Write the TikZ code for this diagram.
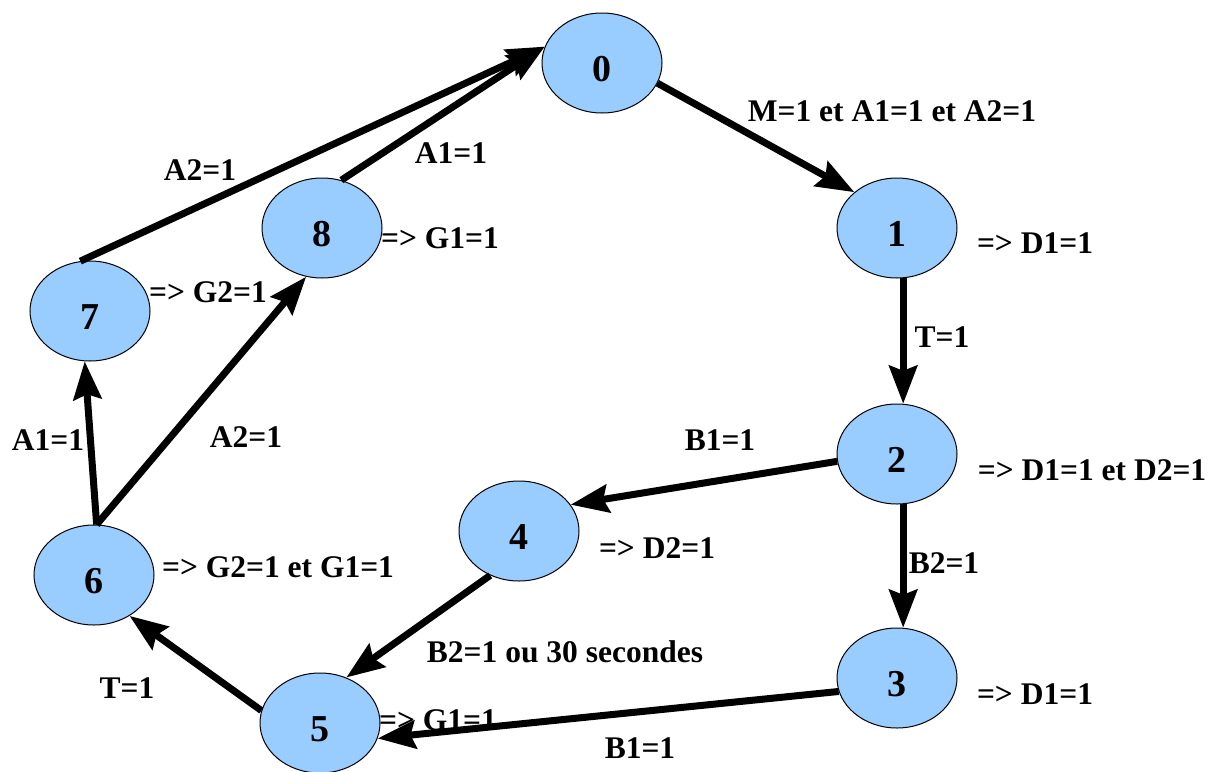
\documentclass[tikz,border=0pt]{standalone}
\usepackage{fontspec}
\setmainfont{Liberation Serif}
\usetikzlibrary{arrows.meta,shapes.geometric}
\definecolor{statefill}{HTML}{99CCFF}
\tikzset{
  state/.style={ellipse, draw=black, line width=1pt, fill=statefill,
    minimum width=120pt, minimum height=100pt, inner sep=0pt,
    text height=36pt, text depth=0pt,
    font=\fontsize{38}{40}\selectfont\bfseries},
  lbl/.style={inner sep=0pt, font=\fontsize{31.5}{34}\selectfont\bfseries},
  trans/.style={line width=7pt, -{Stealth[length=38pt, width=28pt, inset=5pt]}}
}
\begin{document}
\begin{tikzpicture}[x=1pt, y=-1pt]
\useasboundingbox (0,0) rectangle (1212,771);
\fill[white] (0,0) rectangle (1212,771);

% states
\node[state] (n0) at (602,63) {0};
\node[state] (n1) at (897,228) {1};
\node[state] (n2) at (897,454) {2};
\node[state] (n3) at (897,678) {3};
\node[state] (n4) at (519,531) {4};
\node[state] (n5) at (320,723) {5};
\node[state] (n6) at (94,575) {6};
\node[state] (n7) at (90,311) {7};
\node[state] (n8) at (322,228) {8};

% transitions
\draw[trans] (n0.-20) -- (n1.140);
\draw[trans] (n1.-83) -- (n2.83);
\draw[trans] (n2.187) -- (n4.27);
\draw[trans] (n2.-83) -- (n3.83);
\draw[trans] (n4.-123) -- (n5.60);
\draw[trans] (n3.193) -- (n5.-15);
\draw[trans] (n5.168) -- (n6.-49);
\draw[trans] (n6.87) -- (n7.-96);
\draw[trans] (n6.87) -- (n8.-108);
\draw[trans] (n7.101) -- (n0.164);
\draw[trans] (n8.68) -- (n0.164);

% transition conditions
\node[lbl] (c01) at (892,111) {M=1 et A1=1 et A2=1};
\node[lbl] (c12) at (942,337) {T=1};
\node[lbl] (c24) at (720,440) {B1=1};
\node[lbl] (c23) at (944,563) {B2=1};
\node[lbl] (c45) at (565,652) {B2=1 ou 30 secondes};
\node[lbl] (c35) at (640,748) {B1=1};
\node[lbl] (c56) at (127,688) {T=1};
\node[lbl] (c67) at (48,440) {A1=1};
\node[lbl] (c68) at (246,437) {A2=1};
\node[lbl] (c70) at (200,170) {A2=1};
\node[lbl] (c80) at (451,153) {A1=1};

% state outputs
\node[lbl] (o1) at (1035,243) {=> D1=1};
\node[lbl] (o2) at (1092,470) {=> D1=1 et D2=1};
\node[lbl] (o3) at (1035,694) {=> D1=1};
\node[lbl] (o4) at (657,548) {=> D2=1};
\node[lbl] (o5) at (438,720) {=> G1=1};
\node[lbl] (o6) at (278,567) {=> G2=1 et G1=1};
\node[lbl] (o7) at (208,292) {=> G2=1};
\node[lbl] (o8) at (440,238) {=> G1=1};
\end{tikzpicture}
\end{document}
